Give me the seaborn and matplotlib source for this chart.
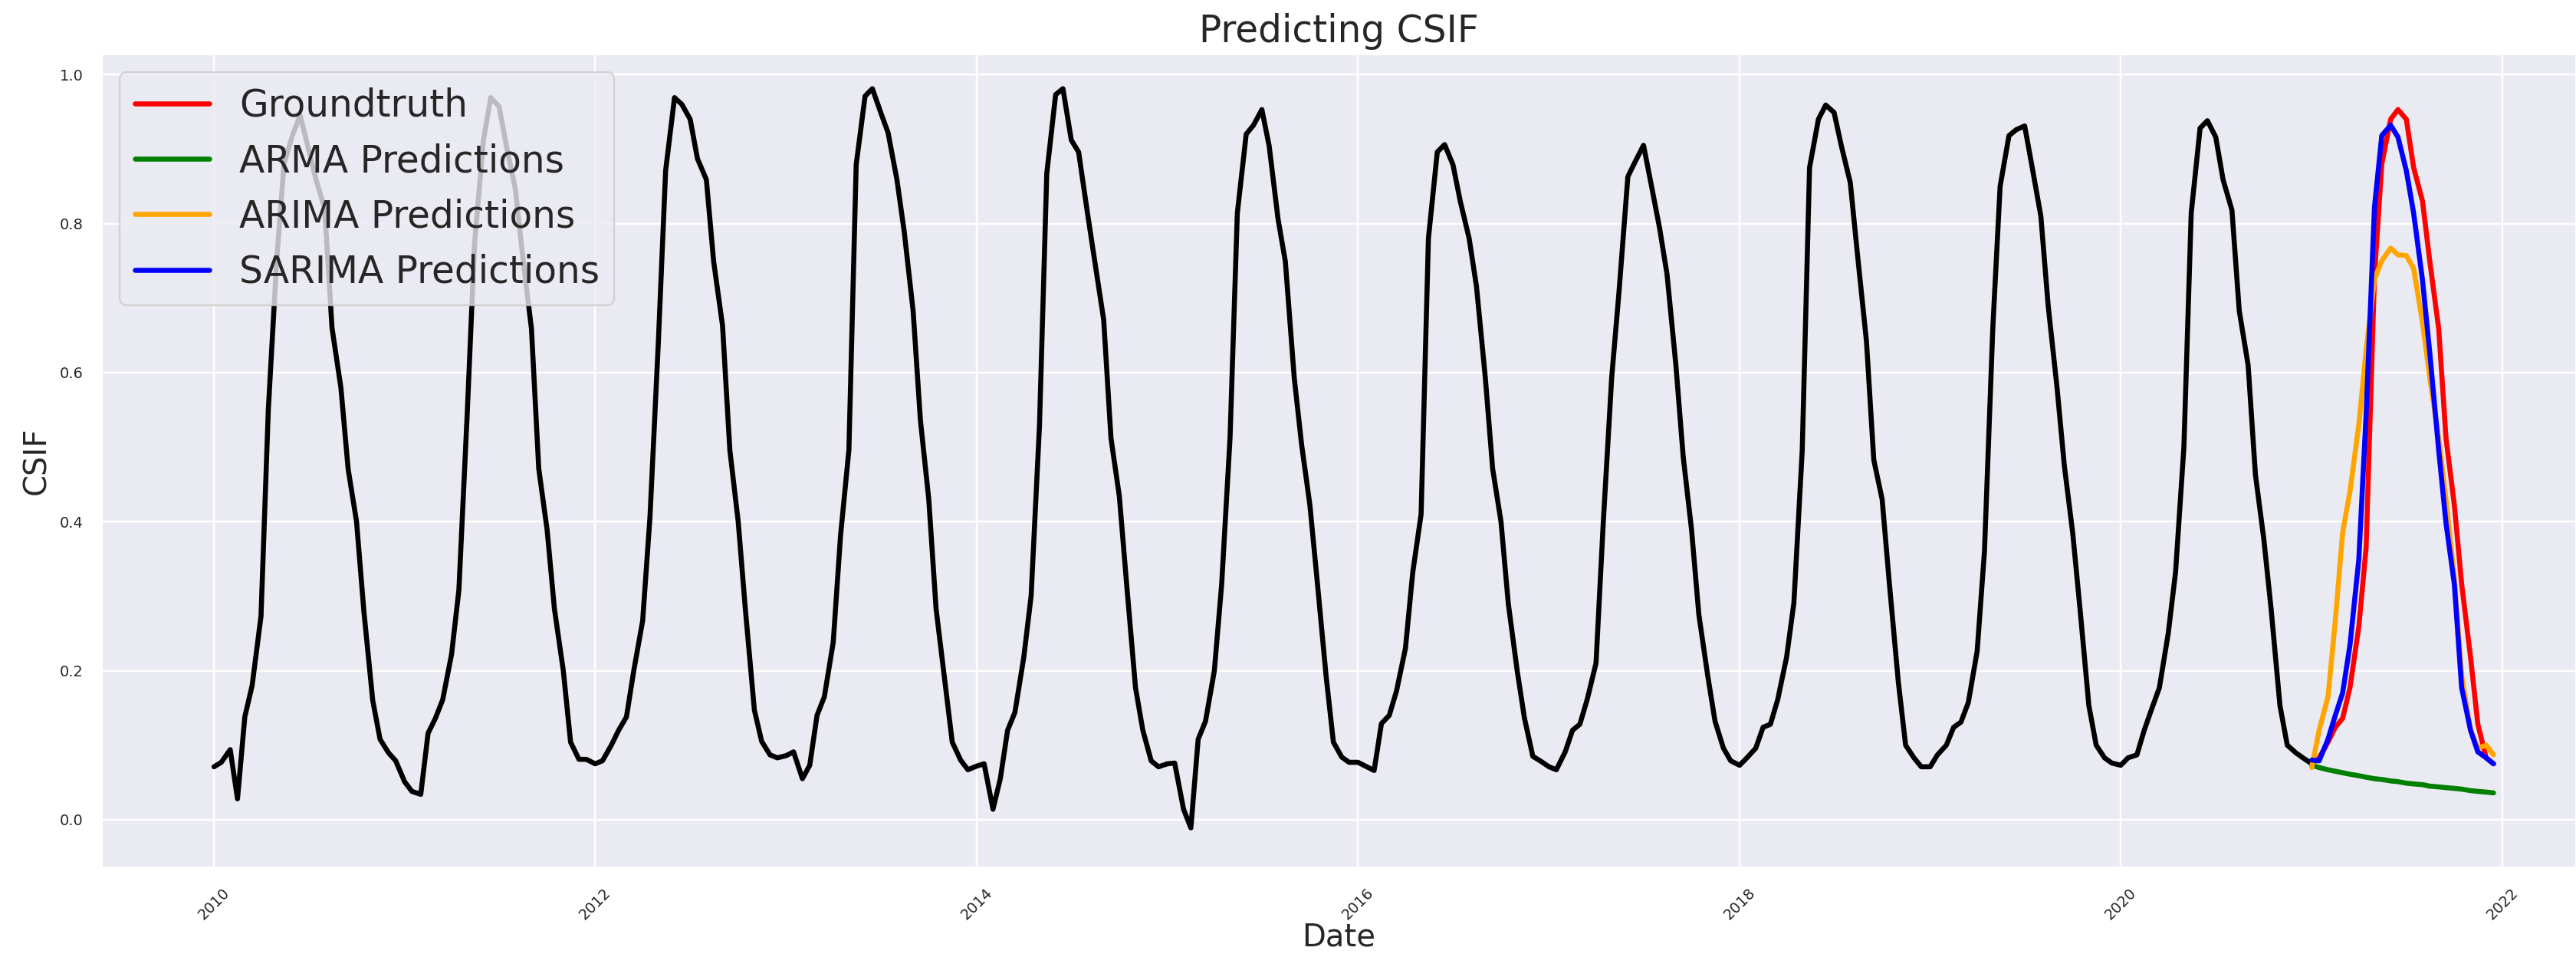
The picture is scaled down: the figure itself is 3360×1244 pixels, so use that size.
import numpy as np
import pandas as pd
import matplotlib
matplotlib.use("Agg")
import matplotlib.pyplot as plt
import matplotlib.dates as mdates
import seaborn as sns

# observed CSIF, semi-monthly, one list per year
csif_2010 = [0.071, 0.077, 0.094, 0.028, 0.138, 0.180, 0.273, 0.550, 0.750, 0.880, 0.920, 0.945,
             0.900, 0.860, 0.820, 0.660, 0.580, 0.470, 0.400, 0.280, 0.160, 0.108, 0.090, 0.079]
csif_2011 = [0.051, 0.038, 0.034, 0.116, 0.136, 0.161, 0.222, 0.308, 0.545, 0.773, 0.912, 0.969,
             0.957, 0.904, 0.847, 0.757, 0.659, 0.471, 0.389, 0.283, 0.200, 0.104, 0.081, 0.081]
csif_2012 = [0.075, 0.079, 0.100, 0.120, 0.138, 0.200, 0.267, 0.406, 0.640, 0.871, 0.969, 0.960,
             0.940, 0.887, 0.859, 0.749, 0.663, 0.496, 0.400, 0.280, 0.147, 0.105, 0.087, 0.083]
csif_2013 = [0.086, 0.091, 0.055, 0.073, 0.140, 0.165, 0.238, 0.381, 0.496, 0.879, 0.971, 0.981,
             0.949, 0.922, 0.859, 0.789, 0.683, 0.536, 0.430, 0.283, 0.185, 0.104, 0.080, 0.067]
csif_2014 = [0.072, 0.075, 0.014, 0.055, 0.120, 0.144, 0.218, 0.300, 0.528, 0.867, 0.973, 0.981,
             0.912, 0.896, 0.814, 0.749, 0.671, 0.512, 0.434, 0.316, 0.177, 0.120, 0.079, 0.071]
csif_2015 = [0.075, 0.076, 0.014, -0.011, 0.108, 0.132, 0.200, 0.316, 0.512, 0.814, 0.920, 0.932,
             0.953, 0.904, 0.806, 0.749, 0.593, 0.504, 0.422, 0.320, 0.193, 0.104, 0.084, 0.077]
csif_2016 = [0.077, 0.072, 0.066, 0.129, 0.140, 0.173, 0.230, 0.332, 0.410, 0.780, 0.896, 0.906,
             0.879, 0.830, 0.780, 0.716, 0.593, 0.471, 0.400, 0.290, 0.200, 0.136, 0.085, 0.079]
csif_2017 = [0.071, 0.067, 0.091, 0.120, 0.128, 0.161, 0.210, 0.400, 0.593, 0.708, 0.863, 0.883,
             0.905, 0.855, 0.793, 0.732, 0.610, 0.487, 0.389, 0.275, 0.193, 0.132, 0.096, 0.079]
csif_2018 = [0.073, 0.083, 0.096, 0.124, 0.128, 0.161, 0.218, 0.291, 0.496, 0.875, 0.940, 0.959,
             0.949, 0.904, 0.855, 0.757, 0.642, 0.483, 0.430, 0.316, 0.185, 0.100, 0.083, 0.071]
csif_2019 = [0.071, 0.087, 0.100, 0.124, 0.131, 0.157, 0.226, 0.360, 0.660, 0.850, 0.918, 0.926,
             0.931, 0.877, 0.810, 0.690, 0.580, 0.475, 0.385, 0.283, 0.153, 0.100, 0.083, 0.076]
csif_2020 = [0.073, 0.083, 0.087, 0.120, 0.150, 0.177, 0.250, 0.332, 0.500, 0.814, 0.928, 0.938,
             0.916, 0.859, 0.818, 0.683, 0.610, 0.463, 0.377, 0.283, 0.153, 0.100, 0.090, 0.083]
csif_last = [0.075]  # 2021-01-01

# test year 2021
groundtruth = [0.075, 0.083, 0.104, 0.124, 0.136, 0.177, 0.259, 0.365, 0.730, 0.880, 0.940, 0.953,
               0.940, 0.875, 0.830, 0.749, 0.659, 0.512, 0.422, 0.316, 0.218, 0.128, 0.083, 0.075]
arma_pred = [0.073, 0.070, 0.067, 0.065, 0.063, 0.061, 0.059, 0.057, 0.055, 0.054, 0.052, 0.051,
             0.049, 0.048, 0.047, 0.045, 0.044, 0.043, 0.042, 0.041, 0.039, 0.038, 0.037, 0.036]
arima_pred = [0.070, 0.120, 0.165, 0.267, 0.385, 0.440, 0.530, 0.630, 0.725, 0.750, 0.767, 0.758,
              0.757, 0.740, 0.667, 0.593, 0.512, 0.430, 0.324, 0.193, 0.120, 0.096, 0.100, 0.087]
sarima_pred = [0.080, 0.079, 0.108, 0.140, 0.170, 0.234, 0.349, 0.544, 0.822, 0.918, 0.932, 0.916,
               0.871, 0.814, 0.724, 0.626, 0.496, 0.398, 0.316, 0.177, 0.120, 0.091, 0.083, 0.075]

history = (csif_2010 + csif_2011 + csif_2012 + csif_2013 + csif_2014 + csif_2015 +
           csif_2016 + csif_2017 + csif_2018 + csif_2019 + csif_2020 + csif_last)
hist_dates = pd.date_range("2010-01-01", periods=len(history), freq="SMS")
test_dates = pd.date_range("2021-01-01", periods=len(groundtruth), freq="SMS")

sns.set_theme(style="darkgrid")

fig = plt.figure(figsize=(19.2, 7.109), dpi=175)
ax = fig.add_axes([0.0393, 0.0908, 0.9607, 0.8529])

lw = 2.7
sns.lineplot(x=hist_dates, y=history, color="black", linewidth=lw, ax=ax)
sns.lineplot(x=test_dates, y=groundtruth, color="red", linewidth=lw, label="Groundtruth", ax=ax)
sns.lineplot(x=test_dates, y=arma_pred, color="green", linewidth=lw, label="ARMA Predictions", ax=ax)
sns.lineplot(x=test_dates, y=arima_pred, color="orange", linewidth=lw, label="ARIMA Predictions", ax=ax)
sns.lineplot(x=test_dates, y=sarima_pred, color="blue", linewidth=lw, label="SARIMA Predictions", ax=ax)

ax.set_xlim(pd.Timestamp("2009-05-30"), pd.Timestamp("2022-05-22"))
ax.set_ylim(-0.064, 1.028)
ax.xaxis.set_major_locator(mdates.YearLocator(2))
ax.xaxis.set_major_formatter(mdates.DateFormatter("%Y"))
plt.setp(ax.get_xticklabels(), rotation=45, fontsize=8)
plt.setp(ax.get_yticklabels(), fontsize=8)

ax.set_title("Predicting CSIF", fontsize=20)
ax.set_xlabel("Date", fontsize=16.5, labelpad=0)
ax.set_ylabel("CSIF", fontsize=16.5)
ax.legend(loc="upper left", fontsize=20)

fig.savefig("out.png", dpi=175)
